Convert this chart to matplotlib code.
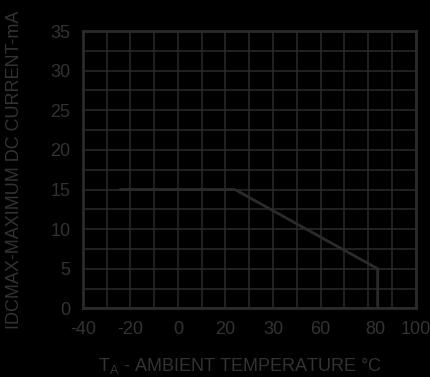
import numpy as np
import matplotlib
matplotlib.use("Agg")
import matplotlib.pyplot as plt

# derating curve
temp_c = [-24, 24, 84, 84]
idc_max_ma = [15, 15, 5, 0]

# tick labels as printed on the original (note the odd "30" and shifted "80")
xtick_pos = [-40, -20, 0, 20, 40, 60, 83, 100]
xtick_lbl = ["-40", "-20", "0", "20", "30", "60", "80", "100"]
ytick_pos = [0, 5, 10, 15, 20, 25, 30, 35]

line_col = "#2b2b2b"
text_col = "#333333"

plt.rcParams["font.family"] = ["Liberation Sans", "DejaVu Sans"]

fig = plt.figure(figsize=(4.31, 3.77), dpi=100, facecolor="black")
ax = fig.add_axes([0.192, 0.182, 0.7726, 0.7356], facecolor="black")

ax.plot(temp_c, idc_max_ma, color=line_col, linewidth=2, solid_joinstyle="miter")

ax.set_xlim(-40, 100)
ax.set_ylim(0, 35)

# grid every 10 degC and 2.5 mA (keep minor ticks that sit on major ones)
ax.xaxis.remove_overlapping_locs = False
ax.yaxis.remove_overlapping_locs = False
ax.set_xticks(np.arange(-40, 101, 10), minor=True)
ax.set_yticks(np.arange(0, 35.1, 2.5), minor=True)
ax.grid(which="minor", color=line_col, linewidth=1.1)
ax.grid(which="major", visible=False)

ax.set_xticks(xtick_pos)
ax.set_xticklabels(xtick_lbl)
ax.set_yticks(ytick_pos)
ax.tick_params(which="both", length=0, colors=text_col, labelsize=13)
ax.tick_params(axis="x", pad=9)
ax.tick_params(axis="y", pad=9)

for s in ax.spines.values():
    s.set_color(line_col)
    s.set_linewidth(2)

ax.set_xlabel(r"T$_\mathregular{A}$ - AMBIENT TEMPERATURE °C", fontsize=13,
              color=text_col)
ax.set_ylabel("IDCMAX-MAXIMUM DC CURRENT-mA", fontsize=13, color=text_col)
ax.xaxis.set_label_coords(0.472, -0.172)
ax.yaxis.set_label_coords(-0.178, 0.5)

fig.savefig("out.png", dpi=100, facecolor="black")
